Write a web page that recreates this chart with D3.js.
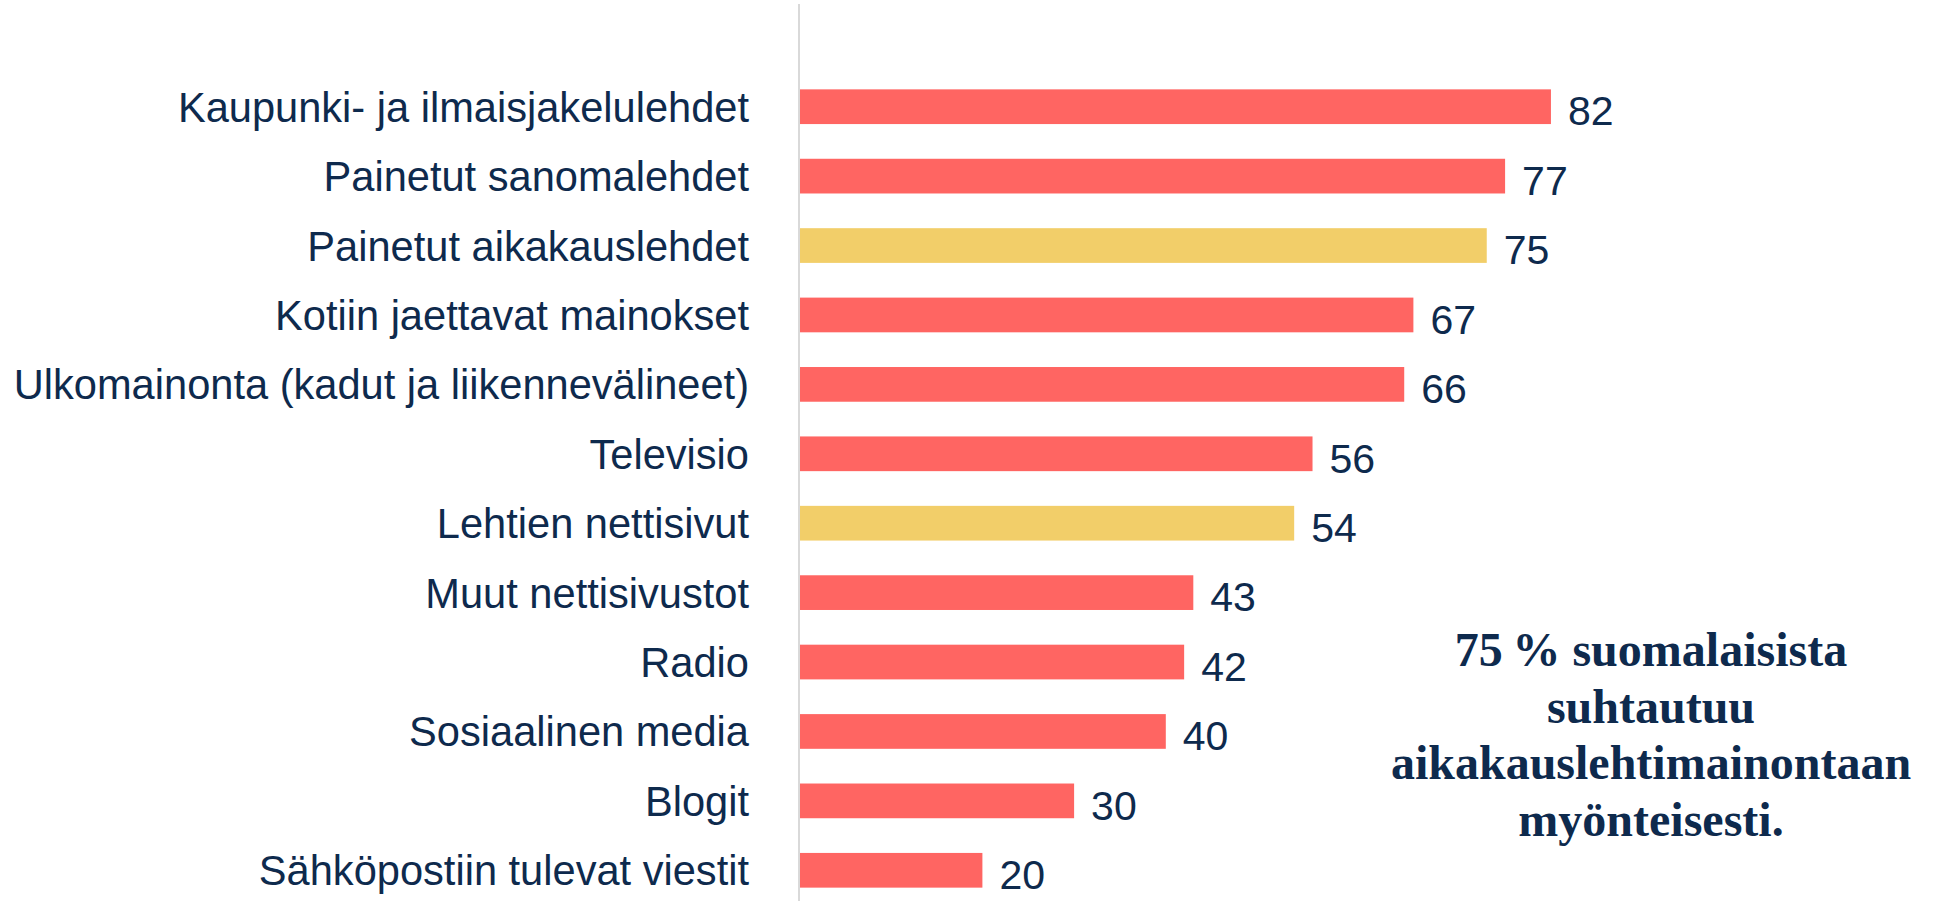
<!DOCTYPE html>
<meta charset="utf-8">
<script src="https://d3js.org/d3.v7.min.js"></script>
<style>
    body { margin: 0; background: #fff; }
</style>

<body>
    <script>
        var categories = [
            "Kaupunki- ja ilmaisjakelulehdet",
            "Painetut sanomalehdet",
            "Painetut aikakauslehdet",
            "Kotiin jaettavat mainokset",
            "Ulkomainonta (kadut ja liikennevälineet)",
            "Televisio",
            "Lehtien nettisivut",
            "Muut nettisivustot",
            "Radio",
            "Sosiaalinen media",
            "Blogit",
            "Sähköpostiin tulevat viestit"
        ];
        var values = [82, 77, 75, 67, 66, 56, 54, 43, 42, 40, 30, 20];
        var highlighted = ["Painetut aikakauslehdet", "Lehtien nettisivut"];
        var noteLines = ["75\u2009% suomalaisista", "suhtautuu", "aikakauslehtimainontaan", "myönteisesti."];

        var width = 1944,
            height = 901;

        var navy = "#0e2a4d";

        var svg = d3.select("body").append("svg")
            .attr("width", width)
            .attr("height", height);

        var x = d3.scaleLinear()
            .domain([0, 100])
            .range([799, 799 + 917]);

        var y = d3.scaleBand()
            .domain(categories)
            .range([72, 905])
            .paddingInner(0.5)
            .paddingOuter(0.25);

        // bars
        svg.append("g").selectAll("rect")
            .data(values)
            .enter().append("rect")
            .attr("x", x(0))
            .attr("y", (d, i) => y(categories[i]))
            .attr("width", d => x(d) - x(0))
            .attr("height", y.bandwidth())
            .style("fill", (d, i) => highlighted.includes(categories[i]) ? "#f2ce69" : "#ff6562");

        // vertical axis line
        svg.append("line")
            .attr("x1", x(0)).attr("x2", x(0))
            .attr("y1", 4).attr("y2", height)
            .style("stroke", "#d9d9d9")
            .style("stroke-width", 2);

        // category labels
        var yAxis = svg.append("g")
            .attr("transform", "translate(" + (x(0) - 50) + ",0)")
            .call(d3.axisLeft(y).tickSize(0).tickPadding(0));
        yAxis.select(".domain").remove();
        yAxis.selectAll("text")
            .attr("dy", "0.36em")
            .style("font-family", "'Liberation Sans', Arial, sans-serif")
            .style("font-size", "41.6px")
            .style("fill", navy);

        // value labels
        svg.append("g").selectAll("text")
            .data(values)
            .enter().append("text")
            .attr("x", d => x(d) + 17)
            .attr("y", (d, i) => y(categories[i]) + y.bandwidth() / 2 + 4)
            .attr("dy", "0.36em")
            .text(d => d)
            .style("font-family", "'Liberation Sans', Arial, sans-serif")
            .style("font-size", "41px")
            .style("fill", navy);

        // note
        svg.append("text")
            .attr("x", 1651)
            .attr("y", 666)
            .style("font-family", "'Liberation Serif', 'DejaVu Serif', serif")
            .style("font-weight", "bold")
            .style("font-size", "48px")
            .style("fill", navy)
            .attr("text-anchor", "middle")
            .selectAll("tspan")
            .data(noteLines)
            .enter().append("tspan")
            .attr("x", 1651)
            .attr("dy", (d, i) => i === 0 ? 0 : 56.5)
            .text(d => d);
    </script>
</body>
